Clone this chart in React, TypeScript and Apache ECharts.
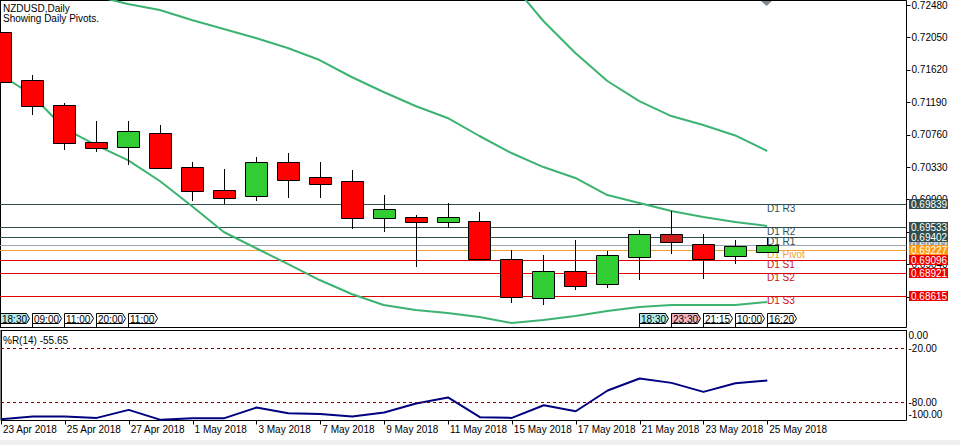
import React, { useEffect, useRef } from 'react';
import * as echarts from 'echarts';

const symbolTitle = 'NZDUSD,Daily';
const pivotTitle = 'Showing Daily Pivots.';
const indicatorTitle = '%R(14) -55.65';

const dates = [
  '23 Apr 2018', '24 Apr 2018', '25 Apr 2018', '26 Apr 2018', '27 Apr 2018',
  '30 Apr 2018', '1 May 2018', '2 May 2018', '3 May 2018', '4 May 2018',
  '7 May 2018', '8 May 2018', '9 May 2018', '10 May 2018', '11 May 2018',
  '14 May 2018', '15 May 2018', '16 May 2018', '17 May 2018', '18 May 2018',
  '21 May 2018', '22 May 2018', '23 May 2018', '24 May 2018', '25 May 2018',
];
const dateTickIdx = [0, 2, 4, 6, 8, 10, 12, 14, 16, 18, 20, 22, 24];

const opens = [0.72118, 0.71481, 0.71149, 0.70658, 0.7060, 0.70778, 0.70331, 0.70022, 0.69942, 0.70393, 0.70194, 0.70141, 0.69658, 0.69663, 0.69605, 0.6961, 0.69106, 0.68589, 0.68947, 0.68774, 0.6914, 0.69438, 0.69305, 0.69154, 0.69203];
const closes = [0.71454, 0.71144, 0.70653, 0.70587, 0.70804, 0.70321, 0.70016, 0.69923, 0.70393, 0.70162, 0.70101, 0.69658, 0.6977, 0.69605, 0.69663, 0.6911, 0.68602, 0.68947, 0.68748, 0.69159, 0.69438, 0.69332, 0.6911, 0.69278, 0.69292];
const lows = [0.7142, 0.71025, 0.70556, 0.70534, 0.70361, 0.70304, 0.6988, 0.6984, 0.6988, 0.69923, 0.69923, 0.69508, 0.69468, 0.69008, 0.69521, 0.69104, 0.6853, 0.68496, 0.68703, 0.68721, 0.68827, 0.6918, 0.68849, 0.69048, 0.6919];
const highs = [0.7219, 0.71551, 0.7118, 0.70945, 0.70945, 0.70888, 0.70397, 0.70304, 0.70467, 0.70516, 0.70397, 0.70291, 0.69959, 0.6969, 0.69853, 0.69729, 0.69233, 0.69159, 0.69362, 0.69216, 0.69495, 0.69747, 0.69438, 0.69362, 0.69385];
const selectedCandle = 21;

const bbMiddle = [0.72918, 0.72812, 0.72705, 0.72599, 0.72493, 0.72414, 0.72281, 0.72162, 0.72042, 0.71909, 0.7175, 0.71525, 0.71326, 0.7114, 0.70981, 0.70742, 0.70516, 0.7033, 0.70185, 0.69959, 0.69853, 0.69747, 0.69667, 0.69601, 0.69548];
const bbLower = [0.71565, 0.71286, 0.70848, 0.70622, 0.70423, 0.70145, 0.69813, 0.69468, 0.69256, 0.69044, 0.68831, 0.68646, 0.685, 0.68433, 0.68394, 0.6834, 0.68261, 0.68301, 0.68354, 0.6842, 0.68473, 0.685, 0.685, 0.685, 0.6854];
const bbUpperStart = 14;
const bbUpper = [0.73568, 0.73143, 0.72772, 0.72268, 0.71843, 0.71472, 0.71206, 0.71007, 0.70888, 0.70749, 0.70543];

const wpr = [-98.6, -95.6, -95.6, -97.1, -88.2, -99.3, -97.4, -97.4, -85.6, -91.9, -92.7, -95.6, -91.1, -81.1, -74.4, -96.3, -97.1, -83.0, -89.7, -66.7, -53.3, -58.2, -68.2, -58.6, -55.65];
const wprTicks = [0, -20, -80, -100];
const wprLevels = [-20, -80];

const priceTicks = [0.6861, 0.6904, 0.6947, 0.699, 0.7033, 0.7076, 0.7119, 0.7162, 0.7205, 0.7248];
// labels of 0.6861 and 0.6947 are fully covered by the level tags in the reference
const priceTickLabels = [0.6904, 0.699, 0.7033, 0.7076, 0.7119, 0.7162, 0.7205, 0.7248];

const pivotNames = ['D1 R3', 'D1 R2', 'D1 R1', 'D1 Pivot', 'D1 S1', 'D1 S2', 'D1 S3'];
const pivotValues = [0.69839, 0.69533, 0.69402, 0.69227, 0.69096, 0.68921, 0.68615];
const bidPrice = 0.69292;
const pivotLabelIdx = 24;

const timeLabelIdx = [0, 1, 2, 3, 4, 20, 21, 22, 23, 24];
const timeLabelText = ['18:30', '09:00', '11:00', '20:00', '11:00', '18:30', '23:30', '21:15', '10:00', '16:20'];

const FONT = 'Liberation Sans, Arial, sans-serif';
const X_MAX = 907.5 / 32;

export default function App() {
  const ref = useRef<HTMLDivElement>(null);

  useEffect(() => {
    document.body.style.margin = '0';
    if (!ref.current) return;
    const chart = echarts.init(ref.current, null, { renderer: 'svg' });

    const candleData = opens.map((o, i) => [i, o, closes[i], lows[i], highs[i]]);

    const levelStyle = (name: string) => {
      if (name === '') return { line: '#9AA6B2', tag: '#8E9BA8', text: '#8E9BA8' };
      if (name.indexOf('R') >= 0) return { line: '#2F4F4F', tag: '#2F4F4F', text: '#2F4F4F' };
      if (name.indexOf('Pivot') >= 0) return { line: '#F0A030', tag: '#FF9914', text: '#F0A030' };
      return { line: '#E00000', tag: '#EE0000', text: '#CC1010' };
    };
    const levels = [{ name: '', price: bidPrice }].concat(
      pivotValues.map((p, k) => ({ name: pivotNames[k], price: p }))
    );

    const tagFill = (k: number) => {
      const t = timeLabelText[k];
      const idx = timeLabelIdx[k];
      if (t === '18:30') return '#B0EAEA';
      if (idx === 21) return '#F6B4C0';
      return '#FFFFFF';
    };

    const option: any = {
      animation: false,
      backgroundColor: '#FFFFFF',
      textStyle: { fontFamily: FONT },
      grid: [
        { left: -1, top: 0.5, width: 907.5, height: 327, show: true, borderColor: '#000', borderWidth: 1, backgroundColor: 'transparent' },
        { left: -1, top: 330.5, width: 907.5, height: 90, show: true, borderColor: '#000', borderWidth: 1, backgroundColor: 'transparent' },
      ],
      xAxis: [
        { type: 'value', gridIndex: 0, min: 0, max: X_MAX, show: false },
        {
          type: 'value', gridIndex: 1, min: 0, max: X_MAX,
          splitLine: { show: false },
          axisLine: { show: true, lineStyle: { color: '#000', width: 1 } },
          axisTick: { show: false },
          axisLabel: {
            customValues: dateTickIdx,
            formatter: (v: number) => dates[Math.round(v)] || '',
            align: 'left', margin: 4, padding: [0, 0, 0, 2],
            color: '#000', fontSize: 10, fontFamily: FONT,
          },
        },
      ],
      yAxis: [
        {
          type: 'value', gridIndex: 0, position: 'right', min: 0.68201, max: 0.7254,
          splitLine: { show: false },
          axisLine: { show: true, lineStyle: { color: '#000', width: 1 } },
          axisTick: { show: false },
          axisLabel: {
            customValues: priceTickLabels,
            formatter: (v: number) => v.toFixed(5),
            margin: 5, color: '#000', fontSize: 10, fontFamily: FONT,
          },
        },
        {
          type: 'value', gridIndex: 1, position: 'right', min: -100, max: 0,
          splitLine: { show: false },
          axisLine: { show: true, lineStyle: { color: '#000', width: 1 } },
          axisTick: { show: false },
          axisLabel: {
            customValues: wprTicks,
            formatter: (v: number) => {
              const s = v.toFixed(2);
              if (v === 0) return '{t|' + s + '}';
              if (v === -100) return '{b|' + s + '}';
              return '{m|' + s + '}';
            },
            rich: {
              t: { padding: [10, 0, 0, 0], fontSize: 10, fontFamily: FONT, color: '#000' },
              b: { padding: [0, 0, 12, 0], fontSize: 10, fontFamily: FONT, color: '#000' },
              m: { fontSize: 10, fontFamily: FONT, color: '#000' },
            },
            margin: 2, color: '#000', fontSize: 10, fontFamily: FONT,
          },
        },
      ],
      series: [
        {
          type: 'custom', name: 'price ticks', xAxisIndex: 0, yAxisIndex: 0, clip: false, z: 1, silent: true,
          data: priceTicks.map((v) => [0, v]),
          renderItem: (params: any, api: any) => {
            const cs = params.coordSys;
            const y = Math.round(api.coord([0, api.value(1)])[1]) + 0.5;
            const x = cs.x + cs.width;
            return { type: 'line', shape: { x1: x, y1: y, x2: x + 4, y2: y }, style: { stroke: '#000', lineWidth: 1 } };
          },
        },
        {
          type: 'custom', name: 'date ticks', xAxisIndex: 1, yAxisIndex: 1, clip: false, z: 1, silent: true,
          data: dateTickIdx.map((i) => [i, -100]),
          renderItem: (params: any, api: any) => {
            const cs = params.coordSys;
            const x = Math.round(api.coord([api.value(0), -100])[0]) + 0.5;
            const y = cs.y + cs.height;
            if (x < 0) return null;
            return { type: 'line', shape: { x1: x, y1: y, x2: x, y2: y + 4 }, style: { stroke: '#000', lineWidth: 1 } };
          },
        },
        {
          type: 'custom', name: 'pivots', xAxisIndex: 0, yAxisIndex: 0, clip: false, z: 1,
          data: levels.map((l, k) => [k, l.price]),
          renderItem: (params: any, api: any) => {
            const lv = levels[params.dataIndex];
            const st = levelStyle(lv.name);
            const price = api.value(1);
            const y = Math.round(api.coord([0, price])[1]) + 0.5;
            const cs = params.coordSys;
            const x0 = cs.x;
            const x1 = cs.x + cs.width;
            const lx = Math.round(api.coord([pivotLabelIdx, price])[0]);
            const children: any[] = [
              { type: 'line', shape: { x1: Math.max(0, x0), y1: y, x2: x1, y2: y }, style: { stroke: st.line, lineWidth: 1 } },
              { type: 'rect', shape: { x: x1 + 2.5, y: Math.round(y - 5.5), width: 39, height: 10 }, style: { fill: st.tag } },
              { type: 'text', style: { text: price.toFixed(5), x: x1 + 4.5, y: Math.round(y - 5.5) + 5, fill: '#FFFFFF', fontSize: 10, fontFamily: FONT, align: 'left', verticalAlign: 'middle' } },
            ];
            if (lv.name) {
              children.push({ type: 'text', style: { text: lv.name, x: lx, y: y - 1, fill: st.text, fontSize: 10, fontFamily: FONT, align: 'left', verticalAlign: 'top' } });
            }
            return { type: 'group', children };
          },
        },
        {
          type: 'line', name: 'BB upper', xAxisIndex: 0, yAxisIndex: 0, symbol: 'none', z: 2,
          data: bbUpper.map((v, k) => [bbUpperStart + k, v]),
          lineStyle: { color: '#3CB371', width: 2 },
        },
        {
          type: 'line', name: 'BB middle', xAxisIndex: 0, yAxisIndex: 0, symbol: 'none', z: 2,
          data: bbMiddle.map((v, i) => [i, v]),
          lineStyle: { color: '#3CB371', width: 2 },
        },
        {
          type: 'line', name: 'BB lower', xAxisIndex: 0, yAxisIndex: 0, symbol: 'none', z: 2,
          data: bbLower.map((v, i) => [i, v]),
          lineStyle: { color: '#3CB371', width: 2 },
        },
        {
          type: 'custom', name: 'candles', xAxisIndex: 0, yAxisIndex: 0, clip: true, z: 3,
          encode: { x: 0, y: [1, 2, 3, 4] },
          data: candleData,
          renderItem: (params: any, api: any) => {
            const i = api.value(0);
            const o = api.value(1), c = api.value(2), l = api.value(3), h = api.value(4);
            const pO = api.coord([i, o]);
            const pC = api.coord([i, c]);
            const pL = api.coord([i, l]);
            const pH = api.coord([i, h]);
            const cx = Math.round(pO[0]) + 0.5;
            const yTop = Math.round(Math.min(pO[1], pC[1])) + 0.5;
            const yBot = Math.round(Math.max(pO[1], pC[1])) + 0.5;
            const fill = params.dataIndex === selectedCandle ? '#C8201C' : c >= o ? '#32CD32' : '#FF0000';
            return {
              type: 'group',
              children: [
                { type: 'line', shape: { x1: cx, y1: Math.round(pH[1]), x2: cx, y2: Math.round(pL[1]) }, style: { stroke: '#000', lineWidth: 1 } },
                { type: 'rect', shape: { x: cx - 11, y: yTop, width: 22, height: Math.max(1, yBot - yTop) }, style: { fill, stroke: '#000', lineWidth: 1 } },
              ],
            };
          },
        },
        {
          type: 'custom', name: 'times', xAxisIndex: 0, yAxisIndex: 0, clip: false, z: 4,
          data: timeLabelIdx.map((i) => [i, 0.69]),
          renderItem: (params: any, api: any) => {
            const k = params.dataIndex;
            const x = Math.round(api.coord([api.value(0), 0.69])[0]) + 0.5;
            const cs = params.coordSys;
            const bottom = cs.y + cs.height;
            const top = Math.round(bottom - 14.5) + 0.5;
            return {
              type: 'group',
              children: [
                { type: 'polygon', shape: { points: [[x, top], [x + 26, top], [x + 29, top + 5], [x + 26, top + 10], [x, top + 10]] }, style: { fill: tagFill(k), stroke: '#000', lineWidth: 1 } },
                { type: 'line', shape: { x1: x, y1: top + 10, x2: x, y2: bottom }, style: { stroke: '#000', lineWidth: 1 } },
                { type: 'text', style: { text: timeLabelText[k], x: x + 1.5, y: top + 5.5, fill: '#000', fontSize: 10, fontFamily: FONT, align: 'left', verticalAlign: 'middle' } },
              ],
            };
          },
        },
        {
          type: 'line', name: '%R(14)', xAxisIndex: 1, yAxisIndex: 1, symbol: 'none', z: 3,
          data: wpr.map((v, i) => [i, v]),
          lineStyle: { color: '#000080', width: 2 },
          markLine: {
            silent: true, symbol: ['none', 'none'], label: { show: false },
            lineStyle: { color: '#800000', width: 1, type: [3, 3] },
            data: wprLevels.map((v) => ({ yAxis: v })),
          },
        },
      ],
      graphic: [
        { type: 'text', x: 3, y: 8, style: { text: symbolTitle, fill: '#000', fontSize: 10, fontFamily: FONT, verticalAlign: 'middle' }, z: 10 },
        { type: 'text', x: 3, y: 18, style: { text: pivotTitle, fill: '#000', fontSize: 10, fontFamily: FONT, verticalAlign: 'middle' }, z: 10 },
        { type: 'text', x: 3, y: 340, style: { text: indicatorTitle, fill: '#000', fontSize: 10, fontFamily: FONT, verticalAlign: 'middle' }, z: 10 },
        { type: 'polygon', shape: { points: [[761, 1], [772, 1], [766.5, 6]] }, style: { fill: '#7F8A96' }, z: 10 },
        { type: 'rect', shape: { x: 0, y: 440, width: 960, height: 5 }, style: { fill: '#F0F0F0' }, z: 0 },
      ],
    };

    chart.setOption(option);
    return () => chart.dispose();
  }, []);

  return <div ref={ref} style={{ position: 'fixed', left: 0, top: 0, width: 960, height: 445, background: '#fff' }} />;
}
